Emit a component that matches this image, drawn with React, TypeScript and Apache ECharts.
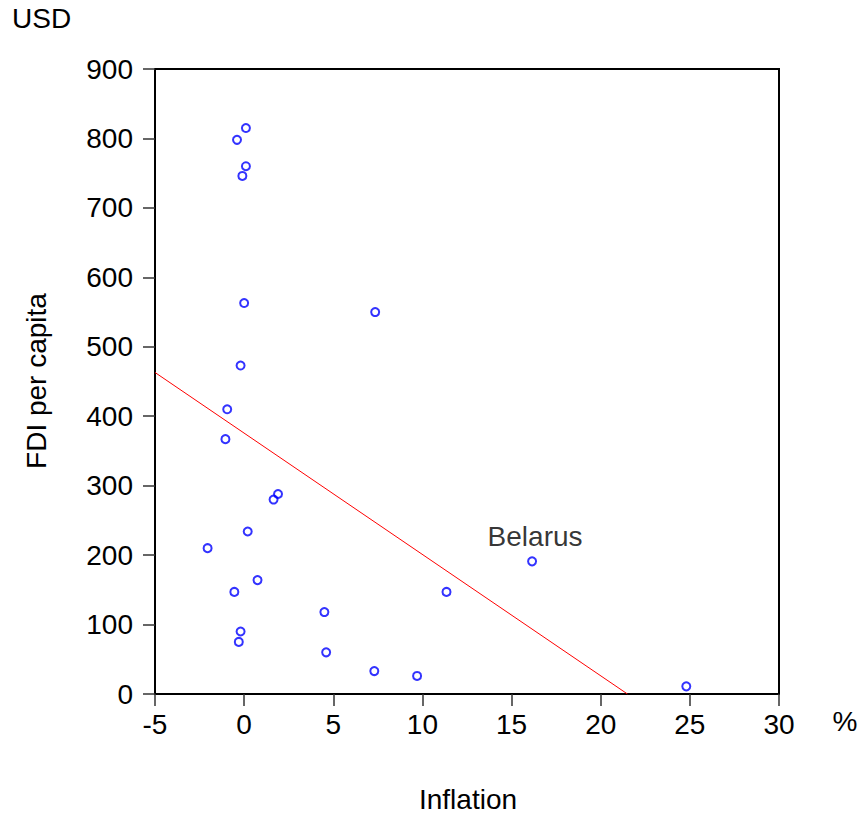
import React, { useEffect, useRef } from "react";
import * as echarts from "echarts";

const inflation = [0.1, -0.4, 0.1, -0.1, 0.0, 7.35, -0.2, -0.95, -1.05, 1.65, 1.9, 0.2, -2.05, 0.75, -0.55, 4.5, 11.35, -0.2, -0.3, 4.6, 7.3, 9.7, 16.15, 24.8];
const fdiPerCapita = [815, 798, 760, 746, 563, 550, 473, 410, 367, 280, 288, 234, 210, 164, 147, 118, 147, 90, 75, 60, 33, 26, 191, 11];
const pointLabels = ["", "", "", "", "", "", "", "", "", "", "", "", "", "", "", "", "", "", "", "", "", "", "Belarus", ""];

const fitX = [-5, 21.5];
const fitY = [463, 0];

const xTicks = { min: -5, max: 30, interval: 5 };
const yTicks = { min: 0, max: 900, interval: 100 };

const FONT = "Liberation Sans, Arial, sans-serif";

export default function App() {
  const ref = useRef<HTMLDivElement>(null);
  useEffect(() => {
    if (!ref.current) return;
    const chart = echarts.init(ref.current, null, { renderer: "svg" });
    const scatterData = inflation.map((x, i) => {
      const item: any = { value: [x, fdiPerCapita[i]] };
      if (pointLabels[i]) {
        item.label = {
          show: true,
          formatter: pointLabels[i],
          position: "top",
          distance: 6,
          offset: [3, 0],
          fontSize: 28,
          fontFamily: FONT,
          color: "#000",
          textBorderWidth: 0,
        };
      }
      return item;
    });
    chart.setOption({
      animation: false,
      backgroundColor: "#fff",
      grid: {
        left: 155,
        right: 82,
        top: 69,
        bottom: 119,
        show: true,
        borderColor: "#000",
        borderWidth: 2,
        backgroundColor: "transparent",
      },
      xAxis: {
        type: "value",
        min: xTicks.min,
        max: xTicks.max,
        interval: xTicks.interval,
        axisLine: { show: true, onZero: false, lineStyle: { color: "#000", width: 2 } },
        axisTick: { show: true, inside: false, length: 12, lineStyle: { color: "#333", width: 1.5 } },
        axisLabel: { margin: 16, fontSize: 28, fontFamily: FONT, color: "#000" },
        splitLine: { show: false },
      },
      yAxis: {
        type: "value",
        min: yTicks.min,
        max: yTicks.max,
        interval: yTicks.interval,
        axisLine: { show: true, onZero: false, lineStyle: { color: "#000", width: 2 } },
        axisTick: { show: true, inside: false, length: 12, lineStyle: { color: "#333", width: 1.5 } },
        axisLabel: { margin: 22, fontSize: 28, fontFamily: FONT, color: "#000" },
        splitLine: { show: false },
      },
      series: [
        {
          type: "line",
          data: fitX.map((x, i) => [x, fitY[i]]),
          symbol: "none",
          lineStyle: { color: "#ff0000", width: 1 },
          z: 1,
        },
        {
          type: "scatter",
          data: scatterData,
          symbol: "circle",
          symbolSize: 8,
          itemStyle: { color: "rgba(255,255,255,0)", borderColor: "#0000ff", borderWidth: 2 },
          z: 2,
        },
      ],
      graphic: [
        {
          type: "text",
          left: 12,
          top: 4,
          style: { text: "USD", fontSize: 28, fontFamily: FONT, fill: "#000" },
        },
        {
          type: "text",
          x: 845,
          y: 721,
          style: { text: "%", fontSize: 28, fontFamily: FONT, fill: "#000", align: "center", verticalAlign: "middle" },
        },
        {
          type: "text",
          x: 468,
          y: 799,
          style: { text: "Inflation", fontSize: 28, fontFamily: FONT, fill: "#000", align: "center", verticalAlign: "middle" },
        },
        {
          type: "text",
          x: 36,
          y: 381,
          rotation: Math.PI / 2,
          style: { text: "FDI per capita", fontSize: 28, fontFamily: FONT, fill: "#000", align: "center", verticalAlign: "middle" },
        },
      ],
    });
    return () => chart.dispose();
  }, []);
  return (
    <div
      ref={ref}
      style={{ position: "fixed", left: 0, top: 0, width: 861, height: 813, background: "#fff" }}
    />
  );
}
